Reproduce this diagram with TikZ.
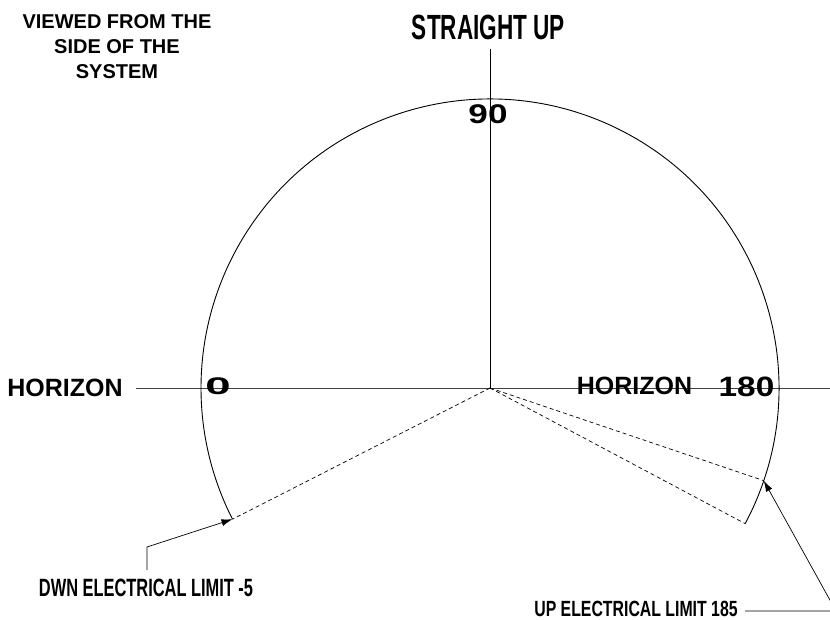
\documentclass[tikz,border=0pt]{standalone}
\usepackage{fontspec}
\setmainfont{Liberation Sans}
\usetikzlibrary{arrows.meta,calc}
\tikzset{
  lbl/.style={inner sep=0pt, font=\bfseries},
  axis/.style={line width=0.8pt, black!75},
  arcline/.style={line width=0.9pt, black},
  ray/.style={dashed, dash pattern=on 4pt off 3pt, line width=0.7pt, black},
  leader/.style={line width=0.7pt, black, -{Latex[length=11pt,width=7pt]}},
}
\begin{document}
\begin{tikzpicture}[x=1pt,y=1pt]
\useasboundingbox (0,0) rectangle (830,620);
\coordinate (c) at (490,232);
\coordinate (top) at (490,571);
\coordinate (hl) at (136,232);
\coordinate (hr) at (834,232);
\coordinate (arcL) at ($(c)+(207:289)$);
\coordinate (arcR) at ($(c)+(-28:289)$);
\coordinate (upp) at ($(c)+(-18.7:289)$);
% axes
\draw[axis] (hl) -- (hr);
\draw[line width=0.8pt] (top) -- (c);
% arc
\draw[arcline] (arcR) arc[start angle=-28, end angle=207, radius=289pt];
% rays
\draw[ray] (c) -- (arcL);
\draw[ray] (c) -- (arcR);
\draw[ray] (c) -- (upp);
% labels
\node[lbl, align=center, font=\bfseries\fontsize{20}{25}\selectfont] (viewed) at (117,573) {VIEWED FROM THE\\SIDE OF THE\\SYSTEM};
\node[lbl, font=\bfseries\fontsize{35}{40}\selectfont, xscale=0.645] (straight) at (488.5,592.5) {STRAIGHT UP};
\node[lbl, font=\bfseries\fontsize{27}{30}\selectfont, xscale=1.3] (n90) at (488,505.5) {90};
\node[lbl, font=\bfseries\fontsize{24}{28}\selectfont, xscale=1.9] (n0) at (218,233.5) {0};
\node[lbl, font=\bfseries\fontsize{28}{32}\selectfont, xscale=1.19] (n180) at (746.5,233) {180};
\node[lbl, font=\bfseries\fontsize{25}{30}\selectfont] (horl) at (65,232.5) {HORIZON};
\node[lbl, font=\bfseries\fontsize{25}{30}\selectfont] (horr) at (634.5,234) {HORIZON};
\node[lbl, font=\bfseries\fontsize{25}{30}\selectfont, xscale=0.656] (dwn) at (146,32) {DWN ELECTRICAL LIMIT -5};
\node[lbl, font=\bfseries\fontsize{22}{27}\selectfont, xscale=0.72] (uplim) at (636,11) {UP ELECTRICAL LIMIT 185};
% leaders
\coordinate (d1) at (147,50);
\coordinate (d2) at (147,73);
\draw[leader] (d1) -- (d2) -- (arcL);
\coordinate (u0) at (745,9);
\coordinate (u1) at (836,9);
\draw[leader] (u0) -- (u1) -- (upp);
\end{tikzpicture}
\end{document}
